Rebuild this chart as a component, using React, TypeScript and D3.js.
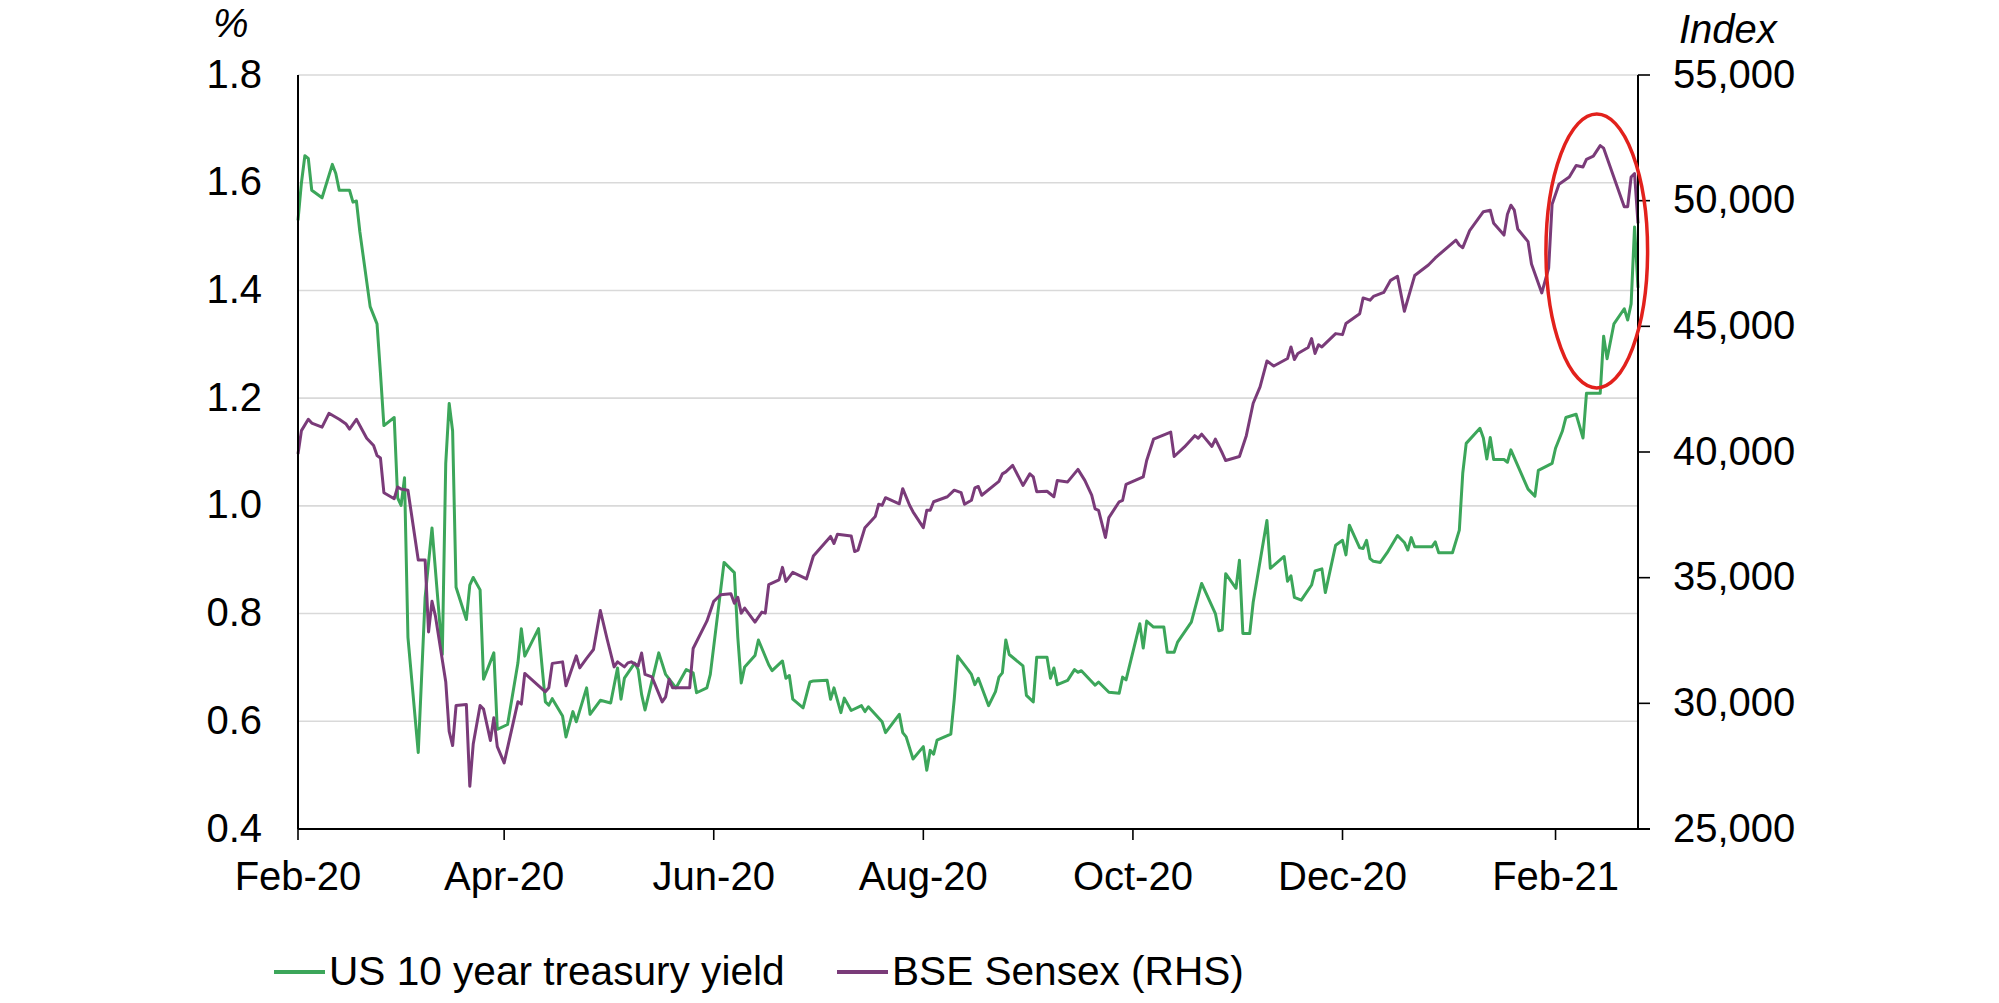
import * as d3 from 'd3'

// US 10 year treasury yield (%)
const yieldDates = [
  '2020-02-01', '2020-02-02', '2020-02-03', '2020-02-04', '2020-02-05', '2020-02-08', '2020-02-11', '2020-02-12',
  '2020-02-13', '2020-02-16', '2020-02-17', '2020-02-18', '2020-02-19', '2020-02-22', '2020-02-24', '2020-02-25',
  '2020-02-26', '2020-02-29', '2020-03-01', '2020-03-02', '2020-03-03', '2020-03-04', '2020-03-07', '2020-03-09',
  '2020-03-11', '2020-03-14', '2020-03-15', '2020-03-16', '2020-03-17', '2020-03-18', '2020-03-21', '2020-03-22',
  '2020-03-23', '2020-03-25', '2020-03-26', '2020-03-29', '2020-03-30', '2020-04-02', '2020-04-05', '2020-04-06',
  '2020-04-07', '2020-04-11', '2020-04-13', '2020-04-14', '2020-04-15', '2020-04-18', '2020-04-19', '2020-04-21',
  '2020-04-22', '2020-04-25', '2020-04-26', '2020-04-29', '2020-05-02', '2020-05-04', '2020-05-05', '2020-05-06',
  '2020-05-09', '2020-05-10', '2020-05-11', '2020-05-12', '2020-05-16', '2020-05-18', '2020-05-21', '2020-05-24',
  '2020-05-26', '2020-05-27', '2020-05-30', '2020-05-31', '2020-06-04', '2020-06-07', '2020-06-08', '2020-06-09',
  '2020-06-10', '2020-06-13', '2020-06-14', '2020-06-17', '2020-06-18', '2020-06-21', '2020-06-22', '2020-06-23',
  '2020-06-24', '2020-06-27', '2020-06-29', '2020-06-30', '2020-07-04', '2020-07-05', '2020-07-06', '2020-07-08',
  '2020-07-09', '2020-07-11', '2020-07-14', '2020-07-15', '2020-07-16', '2020-07-20', '2020-07-21', '2020-07-25',
  '2020-07-26', '2020-07-27', '2020-07-29', '2020-08-01', '2020-08-02', '2020-08-03', '2020-08-04', '2020-08-05',
  '2020-08-09', '2020-08-10', '2020-08-11', '2020-08-14', '2020-08-15', '2020-08-16', '2020-08-17', '2020-08-20',
  '2020-08-22', '2020-08-23', '2020-08-24', '2020-08-25', '2020-08-26', '2020-08-30', '2020-08-31', '2020-09-02',
  '2020-09-03', '2020-09-06', '2020-09-07', '2020-09-08', '2020-09-09', '2020-09-12', '2020-09-14', '2020-09-15',
  '2020-09-16', '2020-09-20', '2020-09-21', '2020-09-24', '2020-09-27', '2020-09-28', '2020-09-29', '2020-10-03',
  '2020-10-04', '2020-10-05', '2020-10-07', '2020-10-10', '2020-10-11', '2020-10-13', '2020-10-14', '2020-10-18',
  '2020-10-21', '2020-10-25', '2020-10-26', '2020-10-27', '2020-10-28', '2020-10-31', '2020-11-01', '2020-11-02',
  '2020-11-04', '2020-11-05', '2020-11-09', '2020-11-10', '2020-11-14', '2020-11-15', '2020-11-16', '2020-11-17',
  '2020-11-19', '2020-11-22', '2020-11-23', '2020-11-25', '2020-11-26', '2020-11-29', '2020-12-01', '2020-12-02',
  '2020-12-03', '2020-12-06', '2020-12-07', '2020-12-08', '2020-12-09', '2020-12-10', '2020-12-12', '2020-12-14',
  '2020-12-17', '2020-12-19', '2020-12-20', '2020-12-21', '2020-12-22', '2020-12-27', '2020-12-28', '2020-12-29',
  '2021-01-02', '2021-01-04', '2021-01-05', '2021-01-06', '2021-01-10', '2021-01-11', '2021-01-12', '2021-01-13',
  '2021-01-14', '2021-01-17', '2021-01-18', '2021-01-19', '2021-01-24', '2021-01-26', '2021-01-27', '2021-01-31',
  '2021-02-01', '2021-02-03', '2021-02-04', '2021-02-07', '2021-02-09', '2021-02-10', '2021-02-14', '2021-02-15',
  '2021-02-16', '2021-02-18', '2021-02-21', '2021-02-22', '2021-02-23', '2021-02-24', '2021-02-25',
]
const yieldValues = [
  1.53, 1.6, 1.65, 1.645, 1.586, 1.572, 1.634, 1.617,
  1.586, 1.586, 1.564, 1.566, 1.509, 1.37, 1.338, 1.246,
  1.149, 1.164, 1.015, 1.001, 1.052, 0.756, 0.542, 0.83,
  0.959, 0.724, 1.079, 1.19, 1.139, 0.849, 0.789, 0.853,
  0.867, 0.844, 0.678, 0.727, 0.585, 0.594, 0.708, 0.772,
  0.721, 0.772, 0.636, 0.63, 0.642, 0.61, 0.571, 0.618,
  0.599, 0.662, 0.613, 0.639, 0.634, 0.699, 0.641, 0.68,
  0.708, 0.696, 0.65, 0.621, 0.727, 0.687, 0.662, 0.696,
  0.69, 0.653, 0.662, 0.687, 0.895, 0.876, 0.756, 0.671,
  0.701, 0.722, 0.751, 0.705, 0.694, 0.712, 0.68, 0.685,
  0.641, 0.625, 0.673, 0.675, 0.676, 0.641, 0.662, 0.616,
  0.643, 0.62, 0.629, 0.618, 0.627, 0.599, 0.579, 0.613,
  0.579, 0.571, 0.53, 0.553, 0.509, 0.546, 0.539, 0.565,
  0.576, 0.641, 0.721, 0.696, 0.687, 0.668, 0.68, 0.629,
  0.655, 0.682, 0.69, 0.751, 0.724, 0.703, 0.648, 0.636,
  0.719, 0.719, 0.68, 0.699, 0.668, 0.676, 0.696, 0.691,
  0.694, 0.667, 0.673, 0.654, 0.652, 0.682, 0.677, 0.781,
  0.736, 0.786, 0.775, 0.775, 0.728, 0.728, 0.747, 0.784,
  0.856, 0.8, 0.768, 0.77, 0.874, 0.847, 0.899, 0.763,
  0.763, 0.821, 0.973, 0.884, 0.906, 0.86, 0.87, 0.83,
  0.825, 0.853, 0.879, 0.883, 0.839, 0.927, 0.936, 0.909,
  0.964, 0.922, 0.921, 0.936, 0.902, 0.897, 0.895, 0.913,
  0.945, 0.932, 0.918, 0.941, 0.924, 0.924, 0.933, 0.913,
  0.913, 0.955, 1.061, 1.116, 1.144, 1.126, 1.087, 1.127,
  1.086, 1.086, 1.081, 1.104, 1.031, 1.018, 1.066, 1.079,
  1.107, 1.139, 1.164, 1.17, 1.126, 1.209, 1.209, 1.315,
  1.273, 1.338, 1.366, 1.345, 1.375, 1.518, 1.405,
]

// BSE Sensex index level (right axis)
const sensexDates = [
  '2020-02-01', '2020-02-02', '2020-02-04', '2020-02-05', '2020-02-08', '2020-02-10', '2020-02-13', '2020-02-15',
  '2020-02-16', '2020-02-18', '2020-02-21', '2020-02-23', '2020-02-24', '2020-02-25', '2020-02-26', '2020-02-29',
  '2020-03-01', '2020-03-02', '2020-03-04', '2020-03-05', '2020-03-07', '2020-03-09', '2020-03-10', '2020-03-11',
  '2020-03-12', '2020-03-15', '2020-03-16', '2020-03-17', '2020-03-18', '2020-03-21', '2020-03-22', '2020-03-23',
  '2020-03-25', '2020-03-26', '2020-03-28', '2020-03-29', '2020-03-30', '2020-04-01', '2020-04-05', '2020-04-06',
  '2020-04-07', '2020-04-13', '2020-04-14', '2020-04-15', '2020-04-18', '2020-04-19', '2020-04-22', '2020-04-23',
  '2020-04-25', '2020-04-27', '2020-04-29', '2020-05-01', '2020-05-03', '2020-05-04', '2020-05-06', '2020-05-07',
  '2020-05-08', '2020-05-10', '2020-05-11', '2020-05-12', '2020-05-14', '2020-05-17', '2020-05-18', '2020-05-19',
  '2020-05-20', '2020-05-25', '2020-05-26', '2020-05-30', '2020-06-01', '2020-06-03', '2020-06-06', '2020-06-07',
  '2020-06-08', '2020-06-09', '2020-06-10', '2020-06-13', '2020-06-15', '2020-06-16', '2020-06-17', '2020-06-20',
  '2020-06-21', '2020-06-22', '2020-06-24', '2020-06-28', '2020-06-30', '2020-07-05', '2020-07-06', '2020-07-07',
  '2020-07-11', '2020-07-12', '2020-07-13', '2020-07-15', '2020-07-18', '2020-07-19', '2020-07-20', '2020-07-21',
  '2020-07-25', '2020-07-26', '2020-07-28', '2020-07-29', '2020-08-01', '2020-08-02', '2020-08-03', '2020-08-04',
  '2020-08-08', '2020-08-10', '2020-08-12', '2020-08-13', '2020-08-15', '2020-08-16', '2020-08-17', '2020-08-18',
  '2020-08-23', '2020-08-24', '2020-08-25', '2020-08-27', '2020-08-30', '2020-09-01', '2020-09-02', '2020-09-03',
  '2020-09-06', '2020-09-08', '2020-09-09', '2020-09-12', '2020-09-15', '2020-09-17', '2020-09-19', '2020-09-20',
  '2020-09-21', '2020-09-23', '2020-09-24', '2020-09-27', '2020-09-28', '2020-09-29', '2020-10-04', '2020-10-05',
  '2020-10-07', '2020-10-12', '2020-10-13', '2020-10-16', '2020-10-19', '2020-10-20', '2020-10-21', '2020-10-24',
  '2020-10-25', '2020-10-27', '2020-10-28', '2020-11-01', '2020-11-03', '2020-11-05', '2020-11-07', '2020-11-09',
  '2020-11-11', '2020-11-15', '2020-11-16', '2020-11-17', '2020-11-18', '2020-11-21', '2020-11-22', '2020-11-23',
  '2020-11-24', '2020-11-25', '2020-11-29', '2020-12-01', '2020-12-02', '2020-12-06', '2020-12-07', '2020-12-09',
  '2020-12-10', '2020-12-13', '2020-12-15', '2020-12-17', '2020-12-19', '2020-12-22', '2020-12-26', '2020-12-28',
  '2020-12-29', '2021-01-03', '2021-01-04', '2021-01-05', '2021-01-07', '2021-01-11', '2021-01-13', '2021-01-14',
  '2021-01-17', '2021-01-18', '2021-01-19', '2021-01-20', '2021-01-21', '2021-01-24', '2021-01-25', '2021-01-28',
  '2021-01-30', '2021-01-31', '2021-02-02', '2021-02-05', '2021-02-07', '2021-02-09', '2021-02-10', '2021-02-12',
  '2021-02-14', '2021-02-15', '2021-02-21', '2021-02-22', '2021-02-23', '2021-02-24', '2021-02-25',
]
const sensexValues = [
  39920, 40850, 41300, 41150, 40990, 41540, 41300, 41110,
  40910, 41300, 40550, 40260, 39860, 39760, 38380, 38140,
  38610, 38530, 38480, 37550, 35700, 35700, 32840, 34060,
  33470, 30860, 28880, 28320, 29910, 29950, 26700, 28380,
  29910, 29770, 28520, 29430, 28280, 27630, 30060, 29970,
  31190, 30460, 30620, 31590, 31650, 30700, 31890, 31410,
  31790, 32140, 33690, 32540, 31450, 31650, 31450, 31610,
  31650, 31490, 32000, 31150, 31050, 30060, 30260, 30960,
  30620, 30620, 32180, 33270, 34060, 34320, 34360, 33980,
  34220, 33590, 33790, 33230, 33630, 33590, 34720, 34910,
  35410, 34850, 35210, 34950, 35860, 36640, 36360, 36730,
  36660, 36040, 36100, 36990, 37430, 37920, 37880, 38180,
  37940, 38540, 37880, 37620, 36990, 37680, 37680, 38020,
  38220, 38480, 38380, 37920, 38080, 38570, 38630, 38280,
  38830, 39130, 39210, 39470, 38670, 39130, 39010, 38420,
  38440, 38220, 38870, 38810, 39310, 38870, 38280, 37740,
  37680, 36600, 37390, 38020, 38080, 38710, 39010, 39660,
  40510, 40790, 39820, 40200, 40650, 40550, 40710, 40220,
  40510, 39960, 39660, 39820, 40650, 41940, 42590, 43620,
  43420, 43720, 44180, 43680, 43920, 44160, 44510, 43920,
  44270, 44180, 44710, 44670, 45110, 45500, 46130, 46040,
  46190, 46350, 46830, 46990, 45600, 47020, 47440, 47720,
  47840, 48430, 48230, 48130, 48810, 49560, 49620, 49100,
  48630, 49460, 49820, 49620, 48870, 48370, 47480, 46330,
  47320, 49860, 50650, 50940, 51400, 51340, 51640, 51770,
  52190, 52090, 49760, 49760, 50940, 51080, 49100,
]

const seriesNames = ['US 10 year treasury yield', 'BSE Sensex (RHS)']
const seriesColors = ['#3ca65a', '#7a3b79']

const leftTicks = [0.4, 0.6, 0.8, 1.0, 1.2, 1.4, 1.6, 1.8]
const rightTicks = [25000, 30000, 35000, 40000, 45000, 50000, 55000]
const xTickDates = ['2020-02-01', '2020-04-01', '2020-06-01', '2020-08-01', '2020-10-01', '2020-12-01', '2021-02-01']
const xDomain = ['2020-02-01', '2021-02-25']

// red ring around the last few weeks: centre date, half width in days, centre index level, half height
const highlightCentre = '2021-02-13'
const highlightDays = 14.8
const highlightLevel = 48000
const highlightSpan = 5450

const width = 1999
const height = 1003
const left = 298
const right = 1638
const top = 75
const bottom = 829
const font = '"Liberation Sans", Arial, Helvetica, sans-serif'
const fontSize = 40

const parseDay = d3.utcParse('%Y-%m-%d')

export default function App() {
  const x = d3
    .scaleUtc()
    .domain(xDomain.map((d) => parseDay(d) as Date))
    .range([left, right])
  const yLeft = d3.scaleLinear().domain([0.4, 1.8]).range([bottom, top])
  const yRight = d3.scaleLinear().domain([25000, 55000]).range([bottom, top])

  const yieldPoints = yieldDates.map((d, i) => [parseDay(d) as Date, yieldValues[i]] as [Date, number])
  const sensexPoints = sensexDates.map((d, i) => [parseDay(d) as Date, sensexValues[i]] as [Date, number])

  const yieldLine = d3
    .line<[Date, number]>()
    .x((d) => x(d[0]))
    .y((d) => yLeft(d[1]))
  const sensexLine = d3
    .line<[Date, number]>()
    .x((d) => x(d[0]))
    .y((d) => yRight(d[1]))

  const formatMonth = d3.utcFormat('%b-%y')
  const formatLeft = d3.format('.1f')
  const formatRight = d3.format(',')

  const centreDate = parseDay(highlightCentre) as Date
  const cx = x(centreDate)
  const rx = x(d3.utcHour.offset(centreDate, highlightDays * 24)) - cx
  const cy = yRight(highlightLevel)
  const ry = yRight(highlightLevel - highlightSpan) - cy

  const legendY = 972
  const legendItems = [
    { x: 274, name: seriesNames[0], color: seriesColors[0] },
    { x: 837, name: seriesNames[1], color: seriesColors[1] },
  ]

  return (
    <svg
      width={width}
      height={height}
      style={{ position: 'absolute', left: 0, top: 0, background: '#fff' }}
      fontFamily={font}
    >
      <rect width={width} height={height} fill="#fff" />

      {leftTicks
        .filter((t) => t > 0.4)
        .map((t) => (
          <line key={`g-${t}`} x1={left} x2={right} y1={yLeft(t)} y2={yLeft(t)} stroke="#d9d9d9" strokeWidth={1.6} />
        ))}

      <path d={yieldLine(yieldPoints) ?? ''} fill="none" stroke={seriesColors[0]} strokeWidth={3} strokeLinejoin="round" />
      <path d={sensexLine(sensexPoints) ?? ''} fill="none" stroke={seriesColors[1]} strokeWidth={3} strokeLinejoin="round" />

      {/* axes */}
      <line x1={left} x2={left} y1={top} y2={bottom} stroke="#000" strokeWidth={2} />
      <line x1={right} x2={right} y1={top} y2={bottom} stroke="#000" strokeWidth={2} />
      <line x1={left} x2={right + 12} y1={bottom} y2={bottom} stroke="#000" strokeWidth={2} />

      {xTickDates.map((d) => {
        const date = parseDay(d) as Date
        const px = x(date)
        return (
          <g key={d}>
            <line x1={px} x2={px} y1={bottom} y2={bottom + 11} stroke="#000" strokeWidth={1.6} />
            <text x={px} y={890} textAnchor="middle" fontSize={fontSize} fill="#000">
              {formatMonth(date)}
            </text>
          </g>
        )
      })}

      {leftTicks.map((t) => (
        <text key={`l-${t}`} x={262} y={yLeft(t) + 12.5} textAnchor="end" fontSize={fontSize} fill="#000">
          {formatLeft(t)}
        </text>
      ))}

      {rightTicks.map((t) => (
        <g key={`r-${t}`}>
          <line x1={right} x2={right + 12} y1={yRight(t)} y2={yRight(t)} stroke="#000" strokeWidth={1.6} />
          <text x={1673} y={yRight(t) + 12.5} textAnchor="start" fontSize={fontSize} fill="#000">
            {formatRight(t)}
          </text>
        </g>
      ))}

      <text x={213} y={37} fontSize={fontSize} fontStyle="italic" fill="#000">
        %
      </text>
      <text x={1679} y={43} fontSize={fontSize} fontStyle="italic" fill="#000">
        Index
      </text>

      <ellipse cx={cx} cy={cy} rx={rx} ry={ry} fill="none" stroke="#e2211c" strokeWidth={3.5} />

      {legendItems.map((item) => (
        <g key={item.name}>
          <line x1={item.x} x2={item.x + 51} y1={legendY} y2={legendY} stroke={item.color} strokeWidth={4} />
          <text x={item.x + 55} y={985} fontSize={40.6} fill="#000">
            {item.name}
          </text>
        </g>
      ))}
    </svg>
  )
}
